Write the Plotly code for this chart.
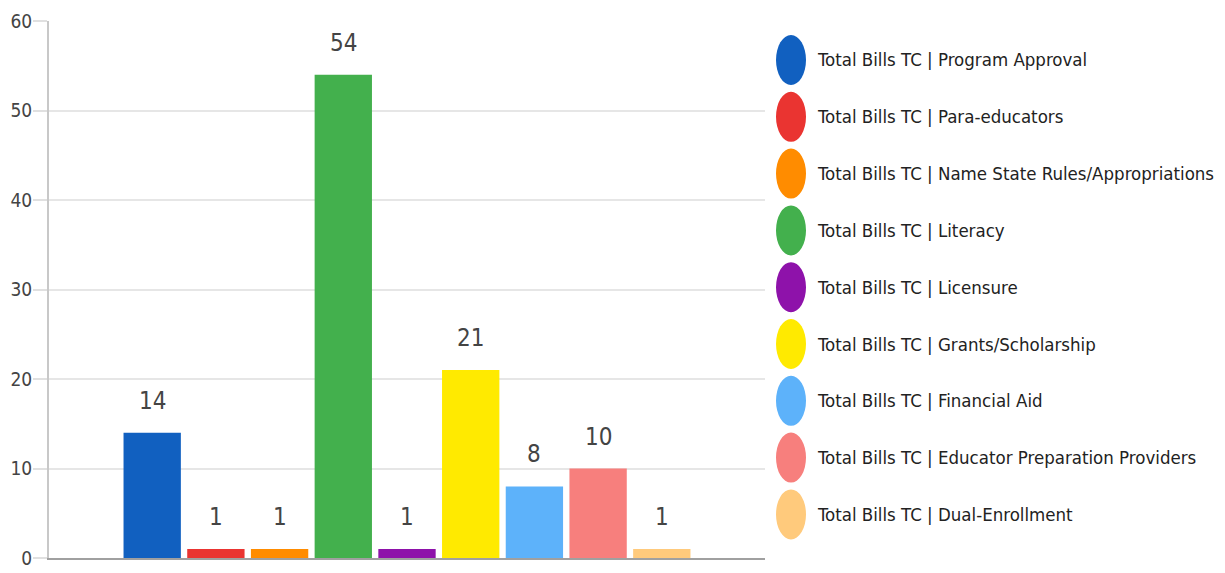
import plotly.graph_objects as go

categories = [
    "Program Approval",
    "Para-educators",
    "Name State Rules/Appropriations",
    "Literacy",
    "Licensure",
    "Grants/Scholarship",
    "Financial Aid",
    "Educator Preparation Providers",
    "Dual-Enrollment",
]
values = [14, 1, 1, 54, 1, 21, 8, 10, 1]
colors = ["#1160C0", "#EA3431", "#FF8C00", "#43B04D", "#8E12AA",
          "#FFEA00", "#5DB2FA", "#F77F7D", "#FFCA7C"]
series_prefix = "Total Bills TC | "
y_ticks = [0, 10, 20, 30, 40, 50, 60]

FONT = "DejaVu Sans Condensed, Liberation Sans Narrow, sans-serif"

# the page body adds an 8px margin; compensate so the screenshot lines up
OFF = 8
W, H = 1225 - OFF, 573 - OFF
PLOT_L, PLOT_R, PLOT_T, PLOT_B = 49, 765, 21, 558  # screen pixels
ML, MR, MT, MB = PLOT_L - OFF, W - (PLOT_R - OFF), PLOT_T - OFF, H - (PLOT_B - OFF)
PW = W - ML - MR
PH = H - MT - MB


def px_to_paper_x(px):
    return (px - OFF - ML) / PW


def px_to_paper_y(py):
    return (H - MB - (py - OFF)) / PH


fig = go.Figure()
fig.add_trace(go.Bar(
    x=categories, y=values, marker=dict(color=colors, line=dict(width=0)),
    width=0.9, showlegend=False, hoverinfo="x+y",
))

annotations = []
for c, v in zip(categories, values):
    annotations.append(dict(
        x=c, y=v, xref="x", yref="y", text=str(v), showarrow=False,
        yanchor="bottom", yshift=16,
        font=dict(family=FONT, size=24, color="#444444"),
    ))

shapes = []
for i, (c, col) in enumerate(zip(categories, colors)):
    py = 60 + 56.8 * i
    yp = px_to_paper_y(py)
    shapes.append(dict(
        type="circle", xref="paper", yref="paper",
        xsizemode="pixel", ysizemode="pixel",
        xanchor=px_to_paper_x(791), yanchor=yp,
        x0=-15, x1=15, y0=-25, y1=25,
        fillcolor=col, line=dict(width=0),
    ))
    annotations.append(dict(
        x=px_to_paper_x(815), y=yp, xref="paper", yref="paper",
        xanchor="left", yanchor="middle", showarrow=False,
        text=series_prefix + c,
        font=dict(family=FONT, size=18.5, color="#222222"),
    ))

fig.update_layout(
    width=W, height=H,
    margin=dict(l=ML, r=MR, t=MT, b=MB, pad=0),
    plot_bgcolor="white", paper_bgcolor="white",
    showlegend=False,
    bargap=0.1,
    annotations=annotations,
    shapes=shapes,
    xaxis=dict(
        range=[-1.62, 9.62], showticklabels=False, ticks="",
        showgrid=False, showline=True, linecolor="#a0a0a0", linewidth=2,
        zeroline=False, fixedrange=True, automargin=False,
    ),
    yaxis=dict(
        range=[0, 60], tickvals=y_ticks, showgrid=True, gridcolor="#e6e6e6",
        gridwidth=2, ticks="outside", ticklen=14, tickcolor="#e0e0e0",
        tickwidth=2, showline=True, linecolor="#c8c8c8", linewidth=2,
        zeroline=False, automargin=False, ticklabelstandoff=-3,
        tickfont=dict(family=FONT, size=19, color="#444444"),
    ),
)

fig.write_html("out.html")
